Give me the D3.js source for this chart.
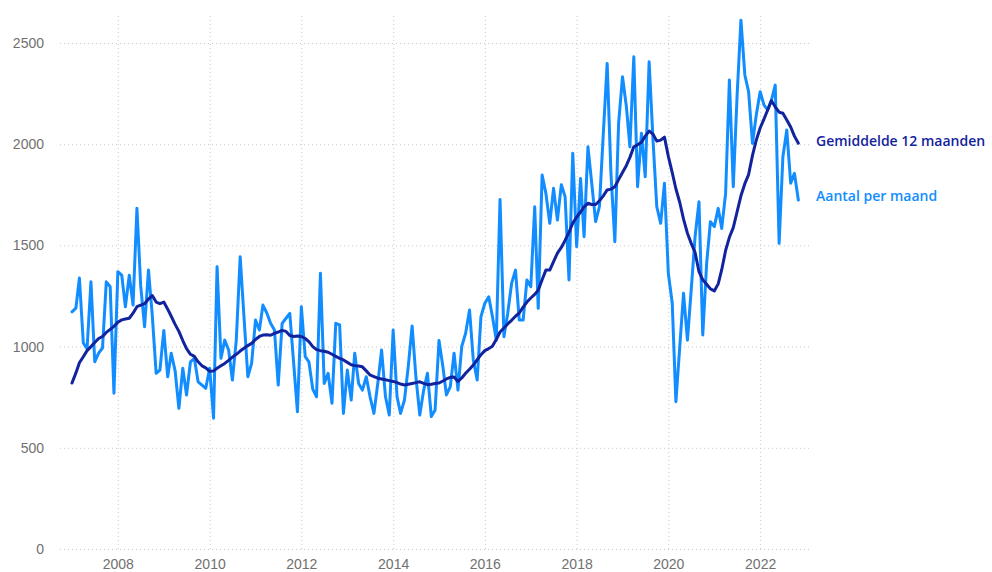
<!DOCTYPE html>
<html>
<head>
<meta charset="utf-8">
<script src="https://cdn.jsdelivr.net/npm/d3@7"></script>
<style>
  html, body { margin: 0; padding: 0; background: #ffffff; }
  svg { display: block; font-family: "Segoe UI", "Open Sans", "Noto Sans", sans-serif; }
</style>
</head>
<body>
<svg id="chart" width="992" height="572"></svg>
<script>
// Monthly series, January 2007 to November 2022
const firstMonth = "2007-01";

const aantalPerMaand = [
  1172, 1190, 1339, 1018,  990, 1320,  925,  968,  993, 1320, 1296,  770, // 2007
  1370, 1353, 1197, 1353, 1205, 1683, 1300, 1098, 1378, 1156,  868,  884, // 2008
  1080,  851,  967,  880,  695,  893,  761,  925,  942,  826,  810,  794, // 2009
   893,  646, 1395,  942, 1032,  983,  835, 1032, 1444, 1150,  851,  917, // 2010
  1131, 1082, 1205, 1166, 1115, 1082,  810, 1115, 1140, 1164,  917,  678, // 2011
  1197,  950,  925,  790,  752, 1362,  818,  868,  720, 1115, 1107,  670, // 2012
   884,  736,  967,  818,  785,  851,  752,  670,  820,  983,  752,  662, // 2013
  1082,  752,  670,  736,  900, 1102,  851,  662,  785,  868,  654,  687, // 2014
  1030,  901,  761,  802,  967,  785, 1000, 1066, 1181,  934,  835, 1148, // 2015
  1214, 1246, 1150, 1032, 1727, 1049, 1164, 1312, 1378, 1131, 1131, 1329, // 2016
  1296, 1691, 1189, 1848, 1757, 1609, 1782, 1625, 1800, 1741, 1329, 1955, // 2017
  1494, 1831, 1543, 1987, 1807, 1617, 1691, 2050, 2399, 1856, 1518, 2103, // 2018
  2333, 2185, 1987, 2432, 1790, 2054, 1839, 2407, 2020, 1691, 1609, 1807, // 2019
  1362, 1214,  728, 1000, 1263, 1032, 1280, 1543, 1716, 1057, 1411, 1617, // 2020
  1593, 1683, 1584, 1757, 2317, 1790, 2234, 2613, 2342, 2259, 2004, 2144, // 2021
  2259, 2193, 2169, 2218, 2292, 1510, 1938, 2070, 1807, 1856, 1724        // 2022
];

const gemiddelde12Maanden = [
   820,  870,  920,  950,  980, 1000, 1020, 1040, 1050, 1070, 1085, 1100, // 2007
  1120, 1132, 1136, 1140, 1165, 1197, 1205, 1212, 1235, 1252, 1220, 1212, // 2008
  1220, 1185, 1150, 1110, 1075, 1030,  990,  962,  952,  925,  905,  895, // 2009
   878,  880,  893,  905,  917,  932,  948,  962,  978,  992, 1005, 1016, // 2010
  1035, 1050, 1057, 1058, 1056, 1065, 1072, 1080, 1075, 1055, 1050, 1052, // 2011
  1050, 1040, 1025, 1000,  985,  980,  977,  972,  962,  952,  942,  934, // 2012
   922,  910,  906,  904,  900,  880,  860,  852,  844,  840,  836,  832, // 2013
   828,  822,  815,  810,  814,  818,  822,  826,  818,  812,  814,  818, // 2014
   820,  830,  840,  848,  850,  828,  845,  868,  888,  909,  935,  960, // 2015
   980,  990, 1002, 1035, 1072, 1092, 1112, 1130, 1150, 1166, 1195, 1220, // 2016
  1240, 1258, 1278, 1330, 1378, 1378, 1420, 1462, 1490, 1525, 1565, 1610, // 2017
  1640, 1665, 1690, 1708, 1702, 1702, 1720, 1745, 1774, 1778, 1790, 1825, // 2018
  1860, 1895, 1935, 1987, 1997, 2010, 2040, 2065, 2050, 2015, 2020, 2035, // 2019
  1940, 1860, 1780, 1712, 1630, 1560, 1510, 1465, 1370, 1330, 1308, 1285, // 2020
  1275, 1310, 1380, 1475, 1540, 1588, 1665, 1745, 1805, 1850, 1945, 2020, // 2021
  2080, 2125, 2168, 2215, 2185, 2158, 2153, 2120, 2085, 2040, 2005        // 2022
];

const yTickValues = [0, 500, 1000, 1500, 2000, 2500];
const xTickYears = [2008, 2010, 2012, 2014, 2016, 2018, 2020, 2022];
const seriesNames = ["Gemiddelde 12 maanden", "Aantal per maand"];
const seriesColors = ["#12239E", "#118DFF"];

// Layout
const plot = { left: 60, right: 810, top: 14, bottom: 549 };

const svg = d3.select("#chart");
svg.append("rect").attr("width", 992).attr("height", 572).attr("fill", "#ffffff");

const start = d3.timeParse("%Y-%m")(firstMonth);
const months = aantalPerMaand.map((_, i) => d3.timeMonth.offset(start, i));

const x = d3.scaleTime()
  .domain([new Date(2007, 0, 1), new Date(2023, 0, 1)])
  .range([72, 806]);

const y = d3.scaleLinear()
  .domain([0, 2500])
  .range([plot.bottom, 43]);

// Horizontal grid + value labels
const yAxis = d3.axisLeft(y)
  .tickValues(yTickValues)
  .tickFormat(d3.format("d"))
  .tickSize(-(plot.right - plot.left))
  .tickPadding(16);

const gy = svg.append("g")
  .attr("transform", `translate(${plot.left},0)`)
  .call(yAxis);
gy.select(".domain").remove();
gy.selectAll(".tick line")
  .attr("stroke", "#c9c9c9")
  .attr("stroke-dasharray", "1,3");
gy.selectAll(".tick text")
  .attr("fill", "#707070")
  .attr("font-size", 14);

// Vertical grid + year labels
const xAxis = d3.axisBottom(x)
  .tickValues(xTickYears.map(yr => new Date(yr, 0, 1)))
  .tickFormat(d3.timeFormat("%Y"))
  .tickSize(-(plot.bottom - plot.top))
  .tickPadding(10);

const gx = svg.append("g")
  .attr("transform", `translate(0,${plot.bottom})`)
  .call(xAxis);
gx.select(".domain").remove();
gx.selectAll(".tick line")
  .attr("stroke", "#c9c9c9")
  .attr("stroke-dasharray", "1,3");
gx.selectAll(".tick text")
  .attr("fill", "#707070")
  .attr("font-size", 14);

// Lines
const line = d3.line()
  .x((d, i) => x(months[i]))
  .y(d => y(d));

svg.append("path")
  .datum(aantalPerMaand)
  .attr("fill", "none")
  .attr("stroke", seriesColors[1])
  .attr("stroke-width", 3)
  .attr("stroke-linejoin", "round")
  .attr("stroke-linecap", "round")
  .attr("d", line);

svg.append("path")
  .datum(gemiddelde12Maanden)
  .attr("fill", "none")
  .attr("stroke", seriesColors[0])
  .attr("stroke-width", 3)
  .attr("stroke-linejoin", "round")
  .attr("stroke-linecap", "round")
  .attr("d", line);

// Series labels at the right end
const labelY = [141, 196];
svg.selectAll(".series-label")
  .data(seriesNames)
  .join("text")
  .attr("class", "series-label")
  .attr("x", 816)
  .attr("y", (d, i) => labelY[i])
  .attr("dy", "0.35em")
  .attr("fill", (d, i) => seriesColors[i])
  .attr("font-size", 14)
  .attr("font-weight", 600)
  .text(d => d);
</script>
</body>
</html>
